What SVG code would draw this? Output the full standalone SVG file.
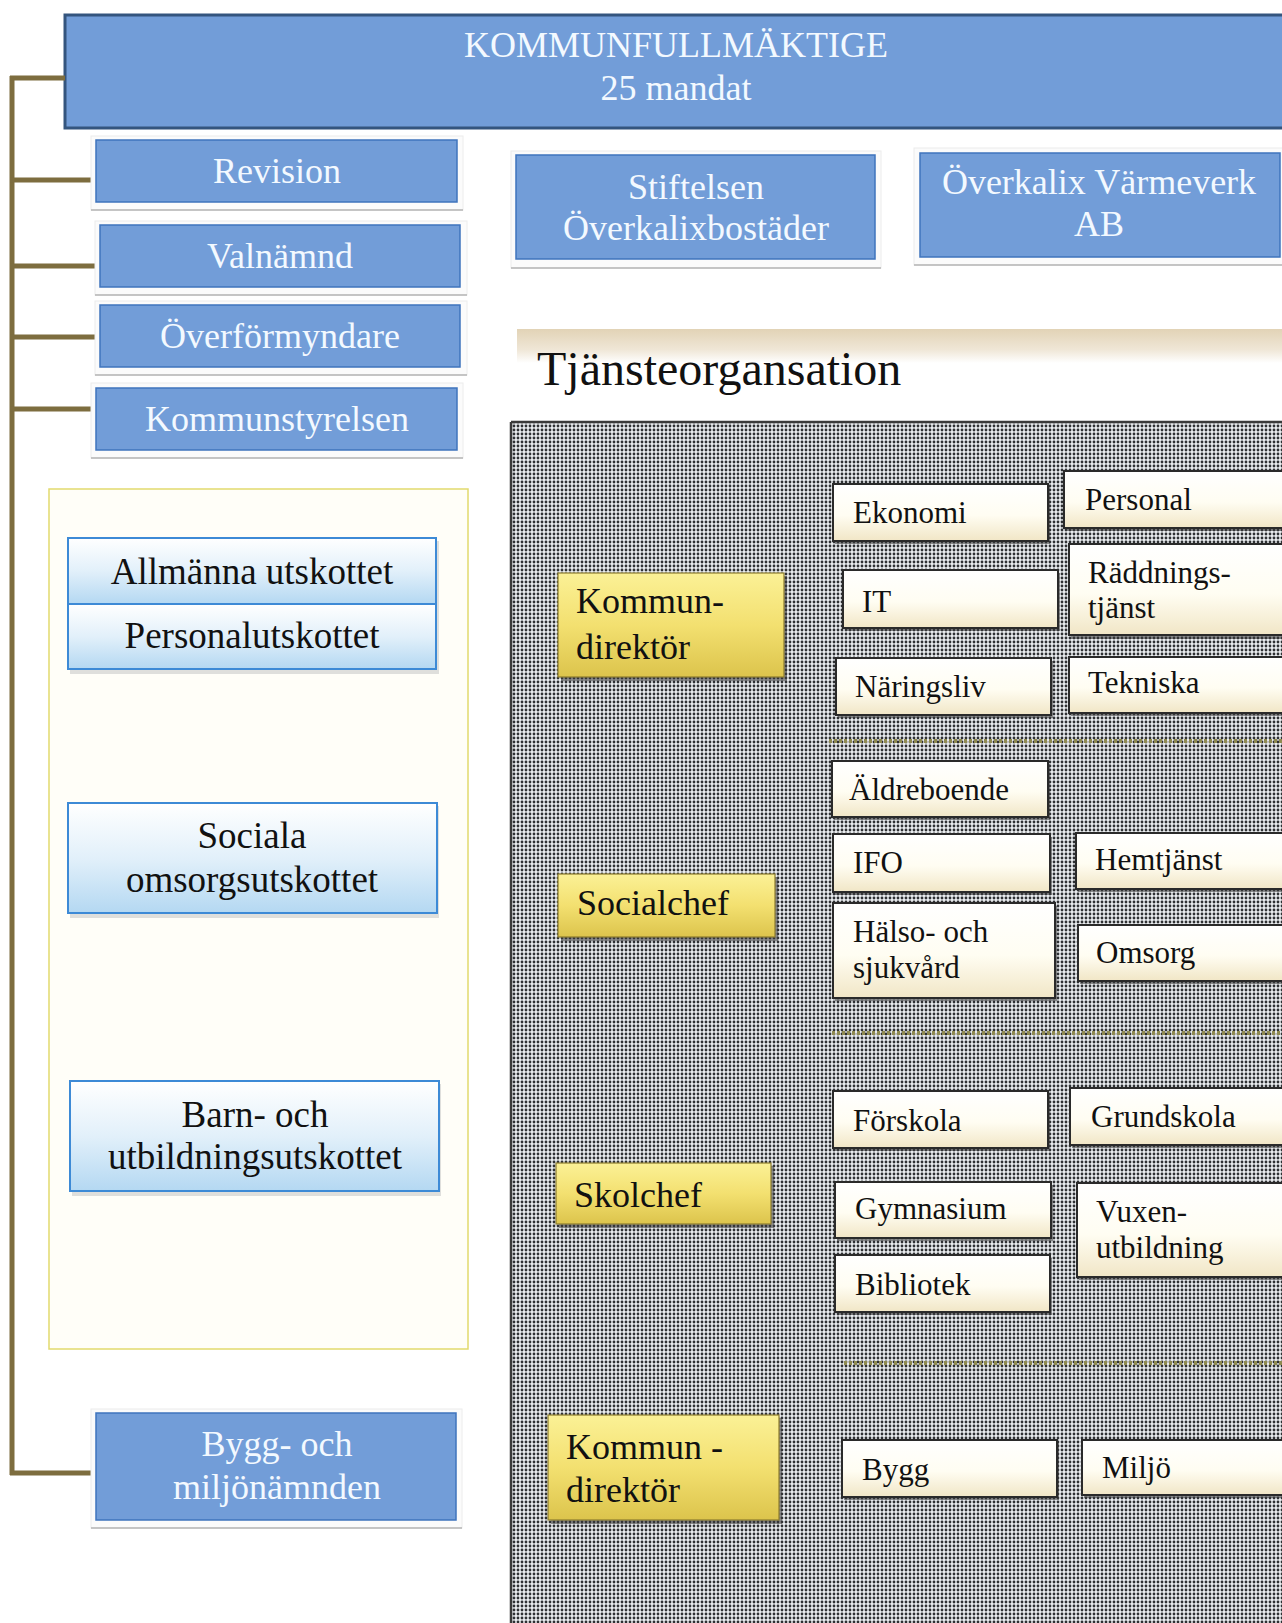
<svg xmlns="http://www.w3.org/2000/svg" width="1282" height="1623" viewBox="0 0 1282 1623">
<defs>
  <pattern id="dots" x="0" y="0" width="4" height="4" patternUnits="userSpaceOnUse">
    <rect width="4" height="4" fill="#eaedf0"/>
    <circle cx="2" cy="2" r="1.4" fill="#2e3033"/>
  </pattern>
  <linearGradient id="gWhite" x1="0" y1="0" x2="0" y2="1">
    <stop offset="0" stop-color="#ffffff"/>
    <stop offset="0.55" stop-color="#fffdf2"/>
    <stop offset="1" stop-color="#f1e6c6"/>
  </linearGradient>
  <linearGradient id="gYellow" x1="0" y1="0" x2="0" y2="1">
    <stop offset="0" stop-color="#fbf196"/>
    <stop offset="0.5" stop-color="#f3e070"/>
    <stop offset="1" stop-color="#dcc44c"/>
  </linearGradient>
  <linearGradient id="gLightBlue" x1="0" y1="0" x2="0" y2="1">
    <stop offset="0" stop-color="#ffffff"/>
    <stop offset="0.5" stop-color="#e2f0fa"/>
    <stop offset="1" stop-color="#b4d8f2"/>
  </linearGradient>
  <linearGradient id="gBand" x1="0" y1="0" x2="0" y2="1">
    <stop offset="0" stop-color="#e2d3b6"/>
    <stop offset="0.6" stop-color="#efe6d6"/>
    <stop offset="1" stop-color="#ffffff"/>
  </linearGradient>
  <style>
    .blue { fill: #729dd8; stroke: #3f74bd; stroke-width: 1.5; }
    .kf { fill: #729dd8; stroke: #34557e; stroke-width: 3; }
    .bshadow { fill: #fbfbfb; stroke: #ececec; stroke-width: 1; }
    .bline { stroke: #b5b5b5; stroke-width: 1.5; }
    .btxt { font-family: "Liberation Serif", "DejaVu Serif", serif; font-size: 36px; fill: #f3f9ff; text-anchor: middle; }
    .lb { fill: url(#gLightBlue); stroke: #3d8ad6; stroke-width: 2; }
    .lbshadow { fill: #c9c9c9; opacity: 0.6; }
    .ltxt { font-family: "Liberation Serif", "DejaVu Serif", serif; font-size: 37px; fill: #111; text-anchor: middle; }
    .wb { fill: url(#gWhite); stroke: #2a2a2a; stroke-width: 2; }
    .yb { fill: url(#gYellow); stroke: #8c7c30; stroke-width: 1.2; }
    .shd { fill: #3a3a3a; opacity: 0.55; }
    .wtxt { font-family: "Liberation Serif", "DejaVu Serif", serif; font-size: 31px; fill: #111; }
    .ytxt { font-family: "Liberation Serif", "DejaVu Serif", serif; font-size: 36px; fill: #111; }
    .conn { stroke: #7d6d3f; stroke-width: 5; fill: none; }
    .sep { stroke: #8f8a50; stroke-width: 4; stroke-dasharray: 3 2; fill: none; }
  </style>
</defs>

<rect width="1282" height="1623" fill="#ffffff"/>

<!-- Kommunfullmäktige -->
<g id="kommunfullmaktige">
  <rect class="kf" x="65" y="15" width="1222" height="113"/>
  <text class="btxt" x="676" y="57" font-size="34">KOMMUNFULLMÄKTIGE</text>
  <text class="btxt" x="676" y="100" font-size="34">25 mandat</text>
</g>

<!-- connectors -->
<g id="connectors">
  <line class="conn" x1="12" y1="76" x2="12" y2="1475"/>
  <line class="conn" x1="10" y1="78" x2="65" y2="78"/>
  <line class="conn" x1="10" y1="180" x2="96" y2="180"/>
  <line class="conn" x1="10" y1="266" x2="100" y2="266"/>
  <line class="conn" x1="10" y1="337" x2="100" y2="337"/>
  <line class="conn" x1="10" y1="409" x2="96" y2="409"/>
  <line class="conn" x1="10" y1="1473" x2="96" y2="1473"/>
</g>

<g id="revision">
  <rect class="bshadow" x="91" y="136" width="372" height="74"/>
  <line class="bline" x1="91" y1="210" x2="463" y2="210"/>
  <rect class="blue" x="96" y="140" width="361" height="62"/>
  <text class="btxt" x="277" y="183">Revision</text>
</g>
<g id="valnamnd">
  <rect class="bshadow" x="95" y="221" width="372" height="74"/>
  <line class="bline" x1="95" y1="295" x2="467" y2="295"/>
  <rect class="blue" x="100" y="225" width="360" height="62"/>
  <text class="btxt" x="280" y="268">Valnämnd</text>
</g>
<g id="overformyndare">
  <rect class="bshadow" x="95" y="301" width="372" height="74"/>
  <line class="bline" x1="95" y1="375" x2="467" y2="375"/>
  <rect class="blue" x="100" y="305" width="360" height="62"/>
  <text class="btxt" x="280" y="348">Överförmyndare</text>
</g>
<g id="kommunstyrelsen">
  <rect class="bshadow" x="91" y="383" width="372" height="75"/>
  <line class="bline" x1="91" y1="458" x2="463" y2="458"/>
  <rect class="blue" x="96" y="388" width="361" height="62"/>
  <text class="btxt" x="277" y="431">Kommunstyrelsen</text>
</g>

<g id="stiftelsen">
  <rect class="bshadow" x="511" y="151" width="370" height="117"/>
  <line class="bline" x1="511" y1="268" x2="881" y2="268"/>
  <rect class="blue" x="516" y="155" width="359" height="104"/>
  <text class="btxt" x="696" y="199">Stiftelsen</text>
  <text class="btxt" x="696" y="240">Överkalixbostäder</text>
</g>
<g id="varmeverk">
  <rect class="bshadow" x="914" y="148" width="375" height="117"/>
  <line class="bline" x1="914" y1="265" x2="1282" y2="265"/>
  <rect class="blue" x="920" y="153" width="360" height="104"/>
  <text class="btxt" x="1099" y="194">Överkalix Värmeverk</text>
  <text class="btxt" x="1099" y="236">AB</text>
</g>

<!-- Tjänsteorganisation header -->
<g id="tjansteorganisation">
  <rect x="517" y="329" width="765" height="34" fill="url(#gBand)"/>
  <text x="537" y="385" font-family="Liberation Serif, DejaVu Serif, serif" font-size="48" fill="#111">Tjänsteorgansation</text>
</g>

<!-- Left panel -->
<g id="utskott-panel">
  <rect x="49" y="489" width="419" height="860" fill="#fffef8" stroke="#e2da6e" stroke-width="1.5"/>
</g>
<g id="allmanna">
  <rect class="lbshadow" x="70" y="541" width="369" height="133"/>
  <rect class="lb" x="68" y="538" width="368" height="66"/>
  <text class="ltxt" x="252" y="584">Allmänna utskottet</text>
</g>
<g id="personalutskottet">
  <rect class="lb" x="68" y="604" width="368" height="65"/>
  <text class="ltxt" x="252" y="648">Personalutskottet</text>
</g>
<g id="sociala">
  <rect class="lbshadow" x="70" y="806" width="369" height="112"/>
  <rect class="lb" x="68" y="803" width="369" height="110"/>
  <text class="ltxt" x="252" y="848">Sociala</text>
  <text class="ltxt" x="252" y="892">omsorgsutskottet</text>
</g>
<g id="barn">
  <rect class="lbshadow" x="72" y="1084" width="369" height="112"/>
  <rect class="lb" x="70" y="1081" width="369" height="110"/>
  <text class="ltxt" x="255" y="1127">Barn- och</text>
  <text class="ltxt" x="255" y="1169">utbildningsutskottet</text>
</g>

<g id="bygg-miljonamnden">
  <rect class="bshadow" x="91" y="1409" width="371" height="119"/>
  <line class="bline" x1="91" y1="1528" x2="462" y2="1528"/>
  <rect class="blue" x="96" y="1413" width="360" height="107"/>
  <text class="btxt" x="277" y="1456">Bygg- och</text>
  <text class="btxt" x="277" y="1499">miljönämnden</text>
</g>

<!-- Dotted service organisation area -->
<g id="service-area">
  <rect x="511" y="422" width="775" height="1205" fill="url(#dots)"/>
  <line x1="511" y1="422" x2="511" y2="1623" stroke="#3a3a3a" stroke-width="2.5"/>
  <line x1="511" y1="422" x2="1282" y2="422" stroke="#3a3a3a" stroke-width="2.5"/>
</g>

<g id="separators">
  <line class="sep" x1="829" y1="741" x2="1282" y2="741"/>
  <line class="sep" x1="832" y1="1033" x2="1282" y2="1033"/>
  <line class="sep" x1="844" y1="1363" x2="1282" y2="1363"/>
</g>

<!-- Group 1 -->
<g id="kommundirektor1">
  <rect class="shd" x="561" y="576" width="226" height="105"/>
  <rect class="yb" x="558" y="573" width="226" height="104"/>
  <text class="ytxt" x="576" y="613">Kommun-</text>
  <text class="ytxt" x="576" y="659">direktör</text>
</g>
<g id="ekonomi">
  <rect class="shd" x="835" y="487" width="215" height="57"/>
  <rect class="wb" x="833" y="484" width="215" height="57"/>
  <text class="wtxt" x="853" y="523">Ekonomi</text>
</g>
<g id="personal">
  <rect class="shd" x="1066" y="474" width="220" height="57"/>
  <rect class="wb" x="1064" y="471" width="222" height="57"/>
  <text class="wtxt" x="1085" y="510">Personal</text>
</g>
<g id="it">
  <rect class="shd" x="845" y="573" width="215" height="58"/>
  <rect class="wb" x="843" y="570" width="215" height="58"/>
  <text class="wtxt" x="862" y="612">IT</text>
</g>
<g id="raddningstjanst">
  <rect class="shd" x="1071" y="547" width="215" height="92"/>
  <rect class="wb" x="1069" y="544" width="217" height="91"/>
  <text class="wtxt" x="1088" y="583">Räddnings-</text>
  <text class="wtxt" x="1088" y="618">tjänst</text>
</g>
<g id="naringsliv">
  <rect class="shd" x="838" y="661" width="215" height="57"/>
  <rect class="wb" x="836" y="658" width="215" height="57"/>
  <text class="wtxt" x="855" y="697">Näringsliv</text>
</g>
<g id="tekniska">
  <rect class="shd" x="1071" y="660" width="215" height="56"/>
  <rect class="wb" x="1069" y="657" width="217" height="56"/>
  <text class="wtxt" x="1088" y="693">Tekniska</text>
</g>

<!-- Group 2 -->
<g id="socialchef">
  <rect class="shd" x="561" y="877" width="217" height="64"/>
  <rect class="yb" x="558" y="874" width="217" height="63"/>
  <text class="ytxt" x="577" y="915">Socialchef</text>
</g>
<g id="aldreboende">
  <rect class="shd" x="834" y="764" width="216" height="56"/>
  <rect class="wb" x="832" y="761" width="216" height="56"/>
  <text class="wtxt" x="849" y="800">Äldreboende</text>
</g>
<g id="ifo">
  <rect class="shd" x="835" y="837" width="217" height="58"/>
  <rect class="wb" x="833" y="834" width="217" height="58"/>
  <text class="wtxt" x="853" y="873">IFO</text>
</g>
<g id="halso-sjukvard">
  <rect class="shd" x="835" y="906" width="222" height="95"/>
  <rect class="wb" x="833" y="903" width="222" height="95"/>
  <text class="wtxt" x="853" y="942">Hälso- och</text>
  <text class="wtxt" x="853" y="978">sjukvård</text>
</g>
<g id="hemtjanst">
  <rect class="shd" x="1078" y="836" width="210" height="56"/>
  <rect class="wb" x="1076" y="833" width="210" height="56"/>
  <text class="wtxt" x="1095" y="870">Hemtjänst</text>
</g>
<g id="omsorg">
  <rect class="shd" x="1080" y="928" width="210" height="56"/>
  <rect class="wb" x="1078" y="925" width="210" height="56"/>
  <text class="wtxt" x="1096" y="963">Omsorg</text>
</g>

<!-- Group 3 -->
<g id="skolchef">
  <rect class="shd" x="559" y="1166" width="215" height="62"/>
  <rect class="yb" x="556" y="1163" width="215" height="61"/>
  <text class="ytxt" x="574" y="1207">Skolchef</text>
</g>
<g id="forskola">
  <rect class="shd" x="835" y="1094" width="215" height="57"/>
  <rect class="wb" x="833" y="1091" width="215" height="57"/>
  <text class="wtxt" x="853" y="1131">Förskola</text>
</g>
<g id="grundskola">
  <rect class="shd" x="1072" y="1091" width="215" height="57"/>
  <rect class="wb" x="1070" y="1088" width="216" height="57"/>
  <text class="wtxt" x="1091" y="1127">Grundskola</text>
</g>
<g id="gymnasium">
  <rect class="shd" x="837" y="1185" width="216" height="56"/>
  <rect class="wb" x="835" y="1182" width="216" height="56"/>
  <text class="wtxt" x="855" y="1219">Gymnasium</text>
</g>
<g id="vuxenutbildning">
  <rect class="shd" x="1079" y="1186" width="210" height="94"/>
  <rect class="wb" x="1077" y="1183" width="210" height="94"/>
  <text class="wtxt" x="1096" y="1222">Vuxen-</text>
  <text class="wtxt" x="1096" y="1258">utbildning</text>
</g>
<g id="bibliotek">
  <rect class="shd" x="837" y="1258" width="215" height="57"/>
  <rect class="wb" x="835" y="1255" width="215" height="57"/>
  <text class="wtxt" x="855" y="1295">Bibliotek</text>
</g>

<!-- Group 4 -->
<g id="kommundirektor2">
  <rect class="shd" x="551" y="1418" width="231" height="106"/>
  <rect class="yb" x="548" y="1415" width="231" height="105"/>
  <text class="ytxt" x="566" y="1459">Kommun -</text>
  <text class="ytxt" x="566" y="1502">direktör</text>
</g>
<g id="bygg">
  <rect class="shd" x="844" y="1443" width="215" height="57"/>
  <rect class="wb" x="842" y="1440" width="215" height="57"/>
  <text class="wtxt" x="862" y="1480">Bygg</text>
</g>
<g id="miljo">
  <rect class="shd" x="1084" y="1443" width="205" height="55"/>
  <rect class="wb" x="1082" y="1440" width="204" height="55"/>
  <text class="wtxt" x="1102" y="1478">Miljö</text>
</g>
</svg>
